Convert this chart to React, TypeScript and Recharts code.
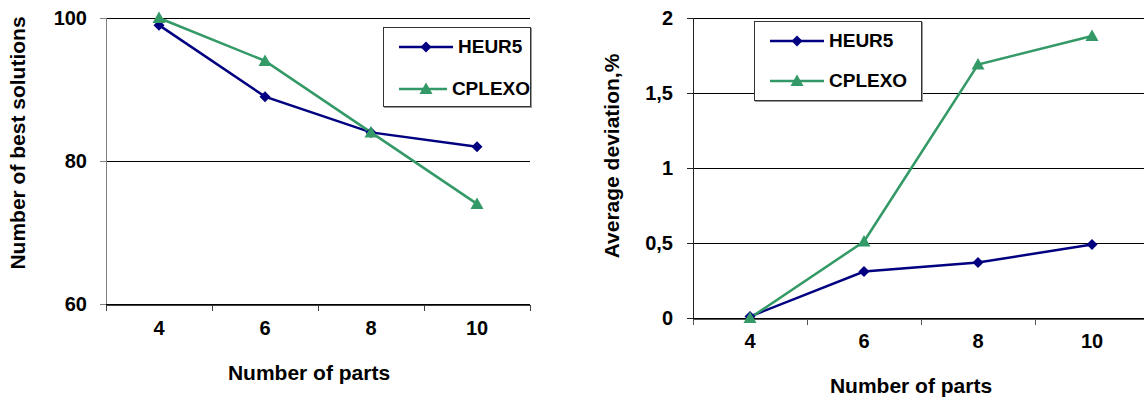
import { LineChart, Line, XAxis, YAxis, CartesianGrid, Legend } from 'recharts';

// x categories (number of parts) and band edges used for the tick marks
const parts = [4, 6, 8, 10];
const bandEdges = [3, 5, 7, 9, 11];

// left chart: number of best solutions
const bestHeur5 = [99, 89, 84, 82];
const bestCplexo = [100, 94, 84, 74];
const bestTicks = [60, 80, 100];

// right chart: average deviation, %
const devHeur5 = [0.01, 0.31, 0.37, 0.49];
const devCplexo = [0, 0.51, 1.69, 1.88];
const devTicks = [0, 0.5, 1, 1.5, 2];

const seriesNames = ['HEUR5', 'CPLEXO'];
const seriesColors = ['#000080', '#339966'];

const bestData = parts.map((p, i) => ({ parts: p, heur: bestHeur5[i], cplex: bestCplexo[i] }));
const devData = parts.map((p, i) => ({ parts: p, heur: devHeur5[i], cplex: devCplexo[i] }));

const FONT = '"Liberation Sans", Arial, sans-serif';
const tickStyle = { fill: '#000', fontSize: 20, fontWeight: 700, fontFamily: FONT };
const titleStyle = { fill: '#000', fontSize: 21, fontWeight: 700, fontFamily: FONT };

function diamond(props: any) {
  const { cx, cy, index } = props;
  if (cx == null || cy == null) return <g key={`dm-${index}`} />;
  const r = 5.5;
  return (
    <path
      key={`dm-${index}`}
      d={`M${cx},${cy - r}L${cx + r},${cy}L${cx},${cy + r}L${cx - r},${cy}Z`}
      fill={seriesColors[0]}
    />
  );
}

function triangle(props: any) {
  const { cx, cy, index } = props;
  if (cx == null || cy == null) return <g key={`tr-${index}`} />;
  return (
    <path
      key={`tr-${index}`}
      d={`M${cx},${cy - 6.5}L${cx + 6.5},${cy + 5}L${cx - 6.5},${cy + 5}Z`}
      fill={seriesColors[1]}
    />
  );
}

function LegendBox({ width, rowGap }: { width: number; rowGap: number }) {
  return (
    <div
      style={{
        width,
        height: 80,
        border: '1px solid #333',
        boxShadow: '1px 1px 0 #999',
        background: '#fff',
        boxSizing: 'border-box',
        paddingTop: 4,
      }}
    >
      {seriesNames.map((name, i) => (
        <div
          key={name}
          style={{
            display: 'flex',
            alignItems: 'center',
            height: 30,
            marginTop: i === 0 ? 0 : rowGap,
            paddingLeft: 15,
          }}
        >
          <svg width={54} height={16} style={{ marginRight: 5 }}>
            <line x1={0} y1={8} x2={54} y2={8} stroke={seriesColors[i]} strokeWidth={2.5} />
            {i === 0 ? (
              <path d="M27,2.5L32.5,8L27,13.5L21.5,8Z" fill={seriesColors[0]} />
            ) : (
              <path d="M27,1.5L33.5,13L20.5,13Z" fill={seriesColors[1]} />
            )}
          </svg>
          <span style={{ fontFamily: FONT, fontWeight: 700, fontSize: 19, color: '#000' }}>{name}</span>
        </div>
      ))}
    </div>
  );
}

export default function App() {
  return (
    <div
      style={{
        position: 'absolute',
        left: 0,
        top: 0,
        width: 1144,
        height: 400,
        overflow: 'hidden',
        background: '#fff',
      }}
    >
      <div style={{ position: 'absolute', left: 0, top: 0 }}>
        <LineChart width={560} height={400} data={bestData} margin={{ top: 18, right: 30, bottom: 94, left: 46 }}>
          <CartesianGrid horizontal vertical={false} stroke="#000" strokeWidth={1} shapeRendering="crispEdges" />
          <XAxis
            xAxisId="edges"
            dataKey="parts"
            type="number"
            domain={[3, 11]}
            ticks={bandEdges}
            height={1}
            stroke="#404040"
            tickSize={6}
            tickFormatter={() => ''}
            shapeRendering="crispEdges"
          />
          <XAxis
            xAxisId="cats"
            dataKey="parts"
            type="number"
            domain={[3, 11]}
            ticks={parts}
            height={1}
            axisLine={false}
            tickLine={false}
            tickMargin={11}
            tick={tickStyle}
            label={{ value: 'Number of parts', position: 'center', dx: -9, dy: 68, style: titleStyle }}
          />
          <YAxis
            domain={[60, 100]}
            ticks={bestTicks}
            width={60}
            stroke="#808080"
            tickSize={6}
            tickMargin={13}
            tick={tickStyle}
            shapeRendering="crispEdges"
            label={{ value: 'Number of best solutions', angle: -90, position: 'center', dx: -58, dy: -18, style: titleStyle }}
          />
          <Legend
            layout="vertical"
            align="center"
            verticalAlign="middle"
            wrapperStyle={{ left: 383, top: 27, width: 148 }}
            content={() => <LegendBox width={148} rowGap={12} />}
          />
          <Line
            xAxisId="cats"
            dataKey="heur"
            name={seriesNames[0]}
            stroke={seriesColors[0]}
            strokeWidth={2.5}
            dot={diamond}
            activeDot={false}
            isAnimationActive={false}
          />
          <Line
            xAxisId="cats"
            dataKey="cplex"
            name={seriesNames[1]}
            stroke={seriesColors[1]}
            strokeWidth={2.5}
            dot={triangle}
            activeDot={false}
            isAnimationActive={false}
          />
        </LineChart>
      </div>

      <div style={{ position: 'absolute', left: 580, top: 0 }}>
        <LineChart width={580} height={400} data={devData} margin={{ top: 18, right: 11, bottom: 80, left: 53 }}>
          <CartesianGrid horizontal vertical={false} stroke="#000" strokeWidth={1} shapeRendering="crispEdges" />
          <XAxis
            xAxisId="edges"
            dataKey="parts"
            type="number"
            domain={[3, 11]}
            ticks={bandEdges}
            height={1}
            stroke="#555"
            tickSize={6}
            tickFormatter={() => ''}
            shapeRendering="crispEdges"
          />
          <XAxis
            xAxisId="cats"
            dataKey="parts"
            type="number"
            domain={[3, 11]}
            ticks={parts}
            height={1}
            axisLine={false}
            tickLine={false}
            tickMargin={10}
            tick={tickStyle}
            label={{ value: 'Number of parts', position: 'center', dx: -10, dy: 67, style: titleStyle }}
          />
          <YAxis
            domain={[0, 2]}
            ticks={devTicks}
            width={60}
            stroke="#222"
            tickSize={6}
            tickMargin={14}
            tick={tickStyle}
            shapeRendering="crispEdges"
            tickFormatter={(v: number) => String(v).replace('.', ',')}
            label={{ value: 'Average deviation,%', angle: -90, position: 'center', dx: -51, dy: -12, style: titleStyle }}
          />
          <Legend
            layout="vertical"
            align="center"
            verticalAlign="middle"
            wrapperStyle={{ left: 174, top: 21, width: 168 }}
            content={() => <LegendBox width={168} rowGap={10} />}
          />
          <Line
            xAxisId="cats"
            dataKey="heur"
            name={seriesNames[0]}
            stroke={seriesColors[0]}
            strokeWidth={2.5}
            dot={diamond}
            activeDot={false}
            isAnimationActive={false}
          />
          <Line
            xAxisId="cats"
            dataKey="cplex"
            name={seriesNames[1]}
            stroke={seriesColors[1]}
            strokeWidth={2.5}
            dot={triangle}
            activeDot={false}
            isAnimationActive={false}
          />
        </LineChart>
      </div>
    </div>
  );
}
